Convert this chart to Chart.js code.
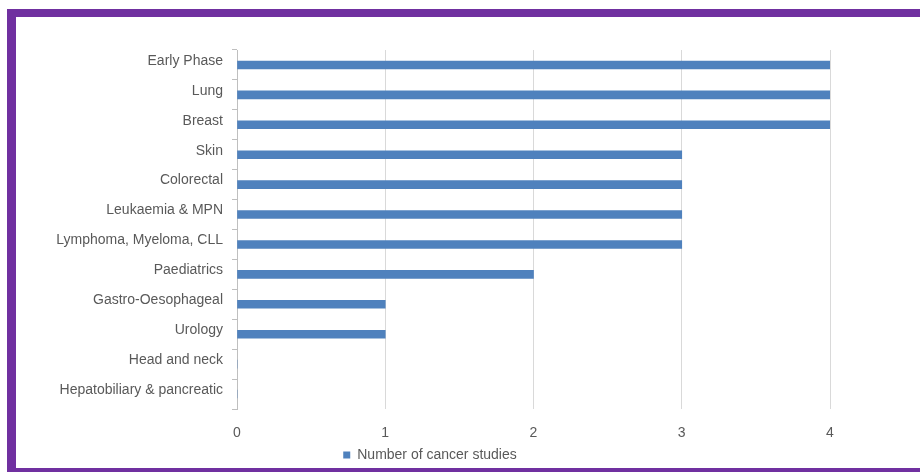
<!DOCTYPE html>
<html><head><meta charset="utf-8">
<script src="https://cdn.jsdelivr.net/npm/chart.js@4"></script>
<style>
html,body{margin:0;padding:0;background:#fff;}
#wrap{position:relative;width:920px;height:472px;overflow:hidden;}
canvas{position:absolute;left:0;top:0;}
.b{position:absolute;background:#7030A0;}
</style></head><body>
<div id="wrap">
<canvas id="c" width="920" height="472"></canvas>
<div class="b" style="left:7px;top:9px;width:913px;height:8px"></div>
<div class="b" style="left:7px;top:9px;width:9px;height:463px"></div>
<div class="b" style="left:7px;top:468px;width:913px;height:4px"></div>
</div>
<script>
const categories = ["Early Phase","Lung","Breast","Skin","Colorectal","Leukaemia & MPN","Lymphoma, Myeloma, CLL","Paediatrics","Gastro-Oesophageal","Urology","Head and neck","Hepatobiliary & pancreatic"];
const studies = [4,4,4,3,3,3,3,2,1,1,0,0];
const xTicks = [0,1,2,3,4];
const seriesName = "Number of cancer studies";
const FONT = "'Liberation Sans', Arial, sans-serif";
new Chart(document.getElementById('c'), {
  type:'bar',
  data:{labels:categories,datasets:[{label:seriesName,data:studies,backgroundColor:'#4F81BD',borderWidth:0,barThickness:8}]},
  options:{
    indexAxis:'y',responsive:false,animation:false,
    layout:{padding:{left:30,top:50,right:90,bottom:0}},
    plugins:{
      legend:{position:'bottom',labels:{boxWidth:7,boxHeight:7,color:'#595959',font:{family:FONT,size:14},padding:6}},
      tooltip:{enabled:false}
    },
    scales:{
      x:{min:0,max:4,
        afterBuildTicks:s=>{s.ticks=xTicks.map(v=>({value:v}));},
        grid:{color:'#d9d9d9',lineWidth:1,tickLength:0,drawTicks:false},
        border:{display:false},
        ticks:{color:'#595959',font:{family:FONT,size:14},padding:16},
        afterFit:s=>{s.height=33;}
      },
      y:{
        grid:{drawOnChartArea:false,color:'#bfbfbf',tickLength:5,offset:true},
        border:{color:'#bfbfbf'},
        ticks:{color:'#595959',font:{family:FONT,size:14},padding:9,labelOffset:-4},
        afterFit:s=>{s.width=207;}
      }
    }
  }
});
</script>
</body></html>
